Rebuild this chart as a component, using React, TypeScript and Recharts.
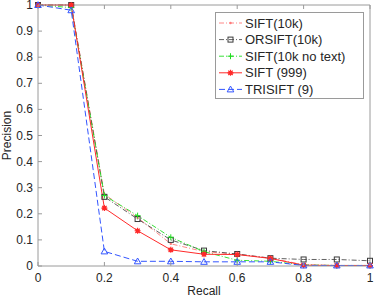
import { Legend, Line, LineChart, XAxis, YAxis } from "recharts";

const recall = [0, 0.1, 0.2, 0.3, 0.4, 0.5, 0.6, 0.7, 0.8, 0.9, 1];
const sift10k = [1, 1, 0.275, 0.185, 0.085, 0.055, 0.045, 0.03, 0.005, 0.002, 0.002];
const orsift10k = [1, 1, 0.265, 0.18, 0.1, 0.059, 0.046, 0.03, 0.025, 0.025, 0.02];
const siftNoText = [1, 0.99, 0.27, 0.193, 0.11, 0.055, 0.022, 0.018, 0.004, 0.002, 0.002];
const sift999 = [1, 1, 0.222, 0.135, 0.062, 0.045, 0.044, 0.029, 0.003, 0.002, 0.002];
const trisift9 = [1, 0.98, 0.056, 0.018, 0.018, 0.016, 0.016, 0.016, 0.002, 0.002, 0.002];

const xTicks = [0, 0.2, 0.4, 0.6, 0.8, 1];
const yTicks = [0, 0.1, 0.2, 0.3, 0.4, 0.5, 0.6, 0.7, 0.8, 0.9, 1];

const data = recall.map((r, i) => ({
  recall: r,
  sift10k: sift10k[i],
  orsift10k: orsift10k[i],
  siftNoText: siftNoText[i],
  sift999: sift999[i],
  trisift9: trisift9[i],
}));

const FONT = "Liberation Sans, Arial, sans-serif";
const AXIS = "#9a9a9a";
const TEXT = "#262626";

type MarkerKind = "dot" | "square" | "plus" | "star" | "triangle";

function Marker({ kind, cx, cy, color }: { kind: MarkerKind; cx: number; cy: number; color: string }) {
  if (kind === "dot") return <circle cx={cx} cy={cy} r={1.2} fill={color} />;
  if (kind === "square")
    return <rect x={cx - 2.5} y={cy - 2.5} width={5} height={5} fill="none" stroke={color} strokeWidth={1} />;
  if (kind === "plus")
    return (
      <path d={`M${cx - 3},${cy}H${cx + 3}M${cx},${cy - 3}V${cy + 3}`} stroke={color} strokeWidth={1} />
    );
  if (kind === "star")
    return (
      <g stroke={color} strokeWidth={1.2}>
        <path d={`M${cx - 3},${cy}H${cx + 3}M${cx},${cy - 3}V${cy + 3}M${cx - 2.2},${cy - 2.2}L${cx + 2.2},${cy + 2.2}M${cx - 2.2},${cy + 2.2}L${cx + 2.2},${cy - 2.2}`} />
        <circle cx={cx} cy={cy} r={1.5} fill={color} />
      </g>
    );
  return (
    <path
      d={`M${cx},${cy - 3.3}L${cx + 3.3},${cy + 2.5}L${cx - 3.3},${cy + 2.5}Z`}
      fill="none"
      stroke={color}
      strokeWidth={1}
    />
  );
}

const series = [
  { key: "sift10k", name: "SIFT(10k)", color: "#ff7a7a", dash: "5 2 1 2", marker: "dot" as MarkerKind, width: 0.9 },
  { key: "orsift10k", name: "ORSIFT(10k)", color: "#3a3a3a", dash: "5 2 1 2", marker: "square" as MarkerKind, width: 0.8 },
  { key: "siftNoText", name: "SIFT(10k no text)", color: "#22dd22", dash: "5 2 1 2", marker: "plus" as MarkerKind, width: 0.9 },
  { key: "sift999", name: "SIFT (999)", color: "#ff2a2a", dash: undefined, marker: "star" as MarkerKind, width: 1 },
  { key: "trisift9", name: "TRISIFT (9)", color: "#3355ff", dash: "6 3", marker: "triangle" as MarkerKind, width: 1 },
];

function BottomTick(props: any) {
  const { x, y, payload } = props;
  return (
    <g>
      <line x1={x} y1={y} x2={x} y2={y - 4} stroke={AXIS} />
      <text x={x} y={y + 16} textAnchor="middle" fontSize={12} fill={TEXT} fontFamily={FONT}>
        {String(payload.value)}
      </text>
    </g>
  );
}

function TopTick(props: any) {
  const { x, y } = props;
  return <line x1={x} y1={y} x2={x} y2={y + 4} stroke={AXIS} />;
}

function LeftTick(props: any) {
  const { x, y, payload } = props;
  return (
    <g>
      <line x1={x} y1={y} x2={x + 4} y2={y} stroke={AXIS} />
      <text x={x - 5} y={y + 4} textAnchor="end" fontSize={12} fill={TEXT} fontFamily={FONT}>
        {String(Math.round(payload.value * 10) / 10)}
      </text>
    </g>
  );
}

function RightTick(props: any) {
  const { x, y } = props;
  return <line x1={x} y1={y} x2={x - 4} y2={y} stroke={AXIS} />;
}

function LegendBox() {
  return (
    <svg width={149} height={87} style={{ display: "block" }}>
      <rect x={0.5} y={0.5} width={148} height={86} fill="#fff" stroke={AXIS} />
      {series.map((s, i) => {
        const cy = 11 + i * 16.6;
        return (
          <g key={s.key}>
            <line x1={4} y1={cy} x2={27} y2={cy} stroke={s.color} strokeWidth={s.width} strokeDasharray={s.dash} />
            <Marker kind={s.marker} cx={15.5} cy={cy} color={s.color} />
            <text x={30} y={cy + 4.5} fontSize={13} fill={TEXT} fontFamily={FONT}>
              {s.name}
            </text>
          </g>
        );
      })}
    </svg>
  );
}

export default function App() {
  return (
    <div style={{ position: "absolute", left: 0, top: 0, width: 374, height: 298, background: "#fff" }}>
      <LineChart width={374} height={298} data={data} margin={{ top: 4, right: 3, left: 0, bottom: 0 }}>
        <XAxis
          dataKey="recall"
          type="number"
          domain={[0, 1]}
          ticks={xTicks}
          interval={0}
          height={32}
          stroke={AXIS}
          tickSize={0}
          tickMargin={0}
          tickLine={false}
          tick={<BottomTick />}
          label={{
            content: ({ viewBox }: any) => (
              <text
                x={viewBox.x + viewBox.width / 2}
                y={viewBox.y + 29}
                textAnchor="middle"
                fontSize={12}
                fill={TEXT}
                fontFamily={FONT}
              >
                Recall
              </text>
            ),
          }}
        />
        <XAxis
          xAxisId="top"
          orientation="top"
          dataKey="recall"
          type="number"
          domain={[0, 1]}
          ticks={xTicks}
          interval={0}
          height={1}
          stroke={AXIS}
          tickSize={0}
          tickMargin={0}
          tickLine={false}
          tick={<TopTick />}
        />
        <YAxis
          type="number"
          domain={[0, 1]}
          ticks={yTicks}
          interval={0}
          width={38}
          stroke={AXIS}
          tickSize={0}
          tickMargin={0}
          tickLine={false}
          tick={<LeftTick />}
          label={{
            content: ({ viewBox }: any) => {
              const cx = 11;
              const cy = viewBox.y + viewBox.height / 2;
              return (
                <text
                  x={cx}
                  y={cy}
                  transform={`rotate(-90 ${cx} ${cy})`}
                  textAnchor="middle"
                  fontSize={12}
                  fill={TEXT}
                  fontFamily={FONT}
                >
                  Precision
                </text>
              );
            },
          }}
        />
        <YAxis
          yAxisId="right"
          orientation="right"
          type="number"
          domain={[0, 1]}
          ticks={yTicks}
          interval={0}
          width={1}
          stroke={AXIS}
          tickSize={0}
          tickMargin={0}
          tickLine={false}
          tick={<RightTick />}
        />
        <Legend
          layout="vertical"
          align="center"
          verticalAlign="middle"
          wrapperStyle={{ position: "absolute", left: 215, top: 12, width: 149, height: 87 }}
          content={() => <LegendBox />}
        />
        {series.map((s) => (
          <Line
            key={s.key}
            dataKey={s.key}
            name={s.name}
            stroke={s.color}
            strokeWidth={s.width}
            strokeDasharray={s.dash}
            isAnimationActive={false}
            dot={(p: any) => <Marker key={`${s.key}-${p.index}`} kind={s.marker} cx={p.cx} cy={p.cy} color={s.color} />}
            activeDot={false}
          />
        ))}
      </LineChart>
    </div>
  );
}
